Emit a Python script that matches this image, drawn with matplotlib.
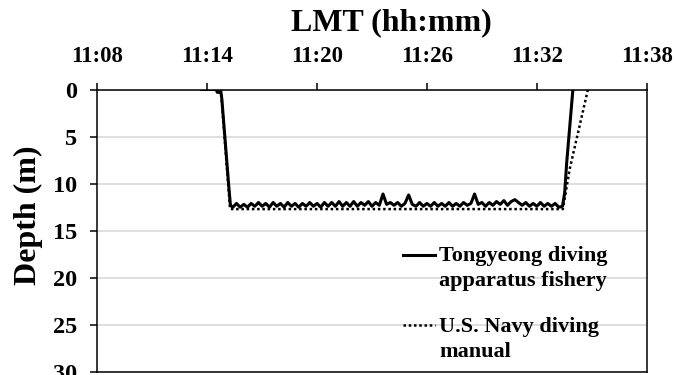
import numpy as np
import matplotlib
matplotlib.use("Agg")
import matplotlib.pyplot as plt
from matplotlib.legend_handler import HandlerLine2D

plt.rcParams['font.family'] = ['Liberation Serif', 'DejaVu Serif']
plt.rcParams['font.weight'] = 'bold'

# ---- data (minutes after 11:00, depth in m) ----
tick_minutes = [8, 14, 20, 26, 32, 38]
tick_labels = ["11:08", "11:14", "11:20", "11:26", "11:32", "11:38"]
depth_ticks = [0, 5, 10, 15, 20, 25, 30]

# Tongyeong diving apparatus fishery: descent
tong_descent_t = [13.70, 14.50, 14.55, 14.75, 14.80, 15.18, 15.27]
tong_descent_d = [0.0, 0.0, 0.3, 0.3, 1.0, 10.3, 12.3]
# bottom phase samples
tong_bottom_t = [15.4, 15.6, 15.8, 16.0, 16.2, 16.4, 16.6, 16.8, 17.0, 17.2,
                 17.4, 17.6, 17.8, 18.0, 18.2, 18.4, 18.6, 18.8, 19.0, 19.2,
                 19.4, 19.6, 19.8, 20.0, 20.2, 20.4, 20.6, 20.8, 21.0, 21.2,
                 21.4, 21.6, 21.8, 22.0, 22.2, 22.4, 22.6, 22.8, 23.0, 23.2,
                 23.4, 23.6, 23.8, 24.0, 24.2, 24.4, 24.6, 24.8, 25.0, 25.2,
                 25.4, 25.6, 25.8, 26.0, 26.2, 26.4, 26.6, 26.8, 27.0, 27.2,
                 27.4, 27.6, 27.8, 28.0, 28.2, 28.4, 28.6, 28.8, 29.0, 29.2,
                 29.4, 29.6, 29.8, 30.0, 30.2, 30.4, 30.6, 30.8, 31.0, 31.2,
                 31.4, 31.6, 31.8, 32.0, 32.2, 32.4, 32.6, 32.8, 33.0, 33.2,
                 33.4]
tong_bottom_d = [12.5, 12.1, 12.5, 12.2, 12.5, 12.1, 12.4, 12.0, 12.4, 12.1,
                 12.5, 12.0, 12.4, 12.1, 12.5, 12.0, 12.4, 12.1, 12.5, 12.1,
                 12.4, 12.0, 12.4, 12.1, 12.5, 12.0, 12.4, 12.0, 12.4, 11.9,
                 12.4, 12.0, 12.4, 11.9, 12.4, 12.0, 12.3, 11.9, 12.4, 12.0,
                 12.3, 11.1, 12.2, 12.0, 12.3, 12.0, 12.4, 12.1, 11.2, 12.2,
                 12.4, 12.0, 12.4, 12.1, 12.4, 12.0, 12.4, 12.1, 12.4, 12.0,
                 12.4, 12.1, 12.4, 12.0, 12.3, 12.1, 11.1, 12.2, 12.0, 12.4,
                 12.0, 12.3, 11.9, 12.2, 11.8, 12.3, 11.9, 11.7, 12.0, 12.3,
                 12.0, 12.4, 12.1, 12.4, 12.0, 12.4, 12.1, 12.4, 12.1, 12.5,
                 12.4]
# ascent
tong_ascent_t = [33.52, 33.63, 33.97]
tong_ascent_d = [11.0, 7.8, 0.0]

# U.S. Navy diving manual profile
navy_t = [14.75, 15.25, 33.42, 33.79, 34.79]
navy_d = [0.0, 12.7, 12.7, 8.5, 0.0]

tong_t = tong_descent_t + tong_bottom_t + tong_ascent_t
tong_d = tong_descent_d + tong_bottom_d + tong_ascent_d

# ---- figure ----
fig = plt.figure(figsize=(6.76, 3.75), dpi=100)
ax = fig.add_axes([97.3 / 676, 1 - 372 / 375, (646.7 - 97.3) / 676, (372 - 89.5) / 375])

ax.plot(navy_t, navy_d, color='black', lw=1.8, linestyle=(0, (1, 1.1)),
        label="U.S. Navy diving\nmanual", zorder=2)
ax.plot(tong_t, tong_d, color='black', lw=2.2, solid_joinstyle='round',
        label="Tongyeong diving\napparatus fishery", zorder=3)

ax.set_xlim(8, 38)
ax.set_ylim(30, 0)
ax.set_xticks(tick_minutes)
ax.set_xticklabels(tick_labels)
ax.set_yticks(depth_ticks)
ax.xaxis.tick_top()
ax.tick_params(axis='x', which='both', top=True, bottom=False, direction='out',
               length=5, width=1.1, pad=11, labelsize=16.5)
ax.tick_params(axis='y', direction='out', length=5, width=1.1, pad=9.5, labelsize=17.5)
for lab in ax.get_xticklabels() + ax.get_yticklabels():
    lab.set_fontweight('bold')

ax.grid(axis='y', color='#d4d4d4', lw=1.1)
ax.set_axisbelow(True)
for s in ax.spines.values():
    s.set_linewidth(1.1)
    s.set_color('black')


class TopLineHandler(HandlerLine2D):
    def __init__(self, offset, **kw):
        super().__init__(**kw)
        self._off = offset

    def create_artists(self, legend, orig_handle, xdescent, ydescent, width,
                       height, fontsize, trans):
        arts = super().create_artists(legend, orig_handle, xdescent, ydescent,
                                      width, height, fontsize, trans)
        for a in arts:
            yd = a.get_ydata()
            a.set_ydata(np.asarray(yd) + self._off)
        return arts


h, l = ax.get_legend_handles_labels()
order = [1, 0]
leg = ax.legend([h[i] for i in order], [l[i] for i in order],
                loc='upper left', bbox_to_anchor=(0.556, 0.445),
                frameon=False, borderpad=0, borderaxespad=0,
                handlelength=1.45, handletextpad=0.2, labelspacing=1.15,
                prop={'family': ['Liberation Serif'], 'weight': 'bold', 'size': 16},
                handler_map={h[0]: TopLineHandler(10.0), h[1]: TopLineHandler(10.0)})
for t in leg.get_texts():
    t.set_linespacing(1.33)

fig.text(391 / 676, 1 - 23 / 375, "LMT (hh:mm)", ha='center', va='center',
         fontsize=23, fontweight='bold')
fig.text(28 / 676, 1 - 215 / 375, "Depth (m)", ha='center', va='center',
         rotation=90, fontsize=23, fontweight='bold')

fig.savefig("out.png", dpi=100)
